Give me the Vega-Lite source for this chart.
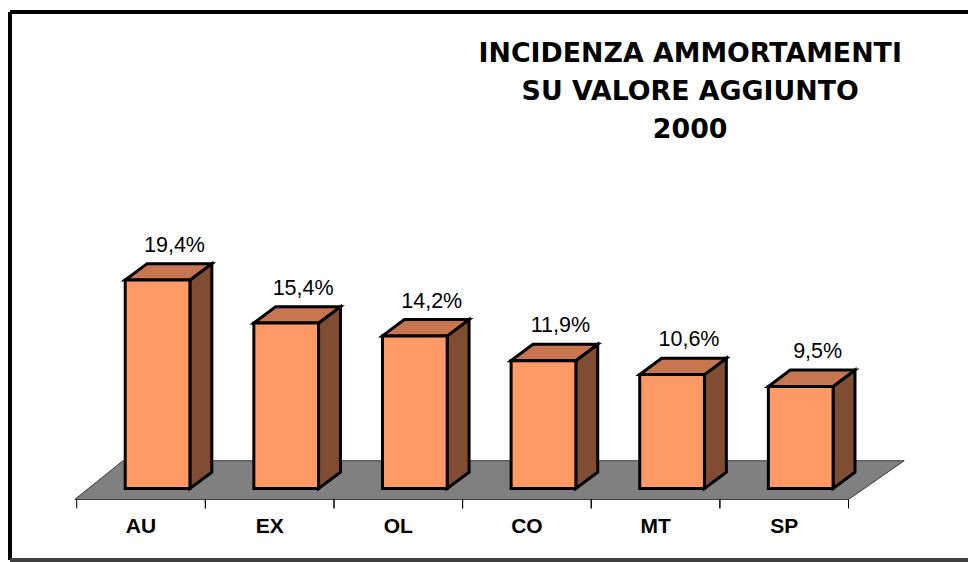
{
  "$schema": "https://vega.github.io/schema/vega-lite/v6.json",
  "width": 970,
  "height": 562,
  "autosize": {"type": "fit", "contains": "padding"},
  "padding": {"left": 8, "top": 10, "right": 0, "bottom": 0},
  "background": "white",
  "config": {"view": {"stroke": null}, "axis": {"disable": true}},
  "datasets": {
    "bars": [
      {"cat": "AU", "v": 19.4},
      {"cat": "EX", "v": 15.4},
      {"cat": "OL", "v": 14.2},
      {"cat": "CO", "v": 11.9},
      {"cat": "MT", "v": 10.6},
      {"cat": "SP", "v": 9.5}
    ]
  },
  "resolve": {"scale": {"x": "shared", "y": "shared"}},
  "layer": [
    {
      "data": {"values": [{"edge": "front"}, {"edge": "back"}]},
      "transform": [
        {"calculate": "datum.edge === 'front' ? -1.016 : 2.587", "as": "fy"},
        {"calculate": "datum.edge === 'front' ? -0.015 : 0.36", "as": "fx"},
        {"calculate": "datum.edge === 'front' ? 6.0 : 6.433", "as": "fx2"}
      ],
      "mark": {"type": "area", "orient": "horizontal", "fill": "#808080", "stroke": "#3a3a3a", "strokeWidth": 1},
      "encoding": {
        "y": {"field": "fy", "type": "quantitative", "scale": {"domain": [-6.651, 44.342], "nice": false, "zero": false}, "axis": null},
        "x": {"field": "fx", "type": "quantitative", "scale": {"domain": [-0.5187, 6.9289], "nice": false, "zero": false}, "axis": null},
        "x2": {"field": "fx2"}
      }
    },
    {
      "data": {"name": "bars"},
      "transform": [
        {"window": [{"op": "row_number", "as": "rn"}]},
        {"calculate": "datum.rn - 1", "as": "i"},
        {"calculate": "0", "as": "a"},
        {"calculate": "1", "as": "b"},
        {"fold": ["a", "b"], "as": ["k", "t"]},
        {"calculate": "datum.i + datum.t", "as": "tx"}
      ],
      "mark": {"type": "rule", "stroke": "#000000", "strokeWidth": 1},
      "encoding": {
        "x": {"field": "tx", "type": "quantitative", "axis": null},
        "y": {"datum": -1.016},
        "y2": {"datum": -1.85}
      }
    },
    {
      "data": {"name": "bars"},
      "transform": [
        {"window": [{"op": "row_number", "as": "rn"}]},
        {"calculate": "datum.rn - 1", "as": "i"},
        {"calculate": "0", "as": "a"},
        {"calculate": "1", "as": "b"},
        {"fold": ["a", "b"], "as": ["k", "t"]},
        {"calculate": "datum.i + 0.377 + 0.503 + datum.t * 0.1703", "as": "sx"},
        {"calculate": "datum.v + datum.t * 1.524", "as": "sy"},
        {"calculate": "datum.t * 1.524", "as": "sy2"}
      ],
      "mark": {"type": "area", "orient": "vertical", "fill": "#804D33", "stroke": "#000000", "strokeWidth": 3, "strokeJoin": "miter"},
      "encoding": {
        "x": {"field": "sx", "type": "quantitative", "axis": null},
        "y": {"field": "sy", "type": "quantitative", "axis": null},
        "y2": {"field": "sy2"},
        "detail": {"field": "cat"}
      }
    },
    {
      "data": {"name": "bars"},
      "transform": [
        {"window": [{"op": "row_number", "as": "rn"}]},
        {"calculate": "datum.rn - 1", "as": "i"},
        {"calculate": "0", "as": "a"},
        {"calculate": "1", "as": "b"},
        {"fold": ["a", "b"], "as": ["k", "t"]},
        {"calculate": "datum.i + 0.377 + datum.t * 0.1703", "as": "tx1"},
        {"calculate": "datum.i + 0.377 + 0.503 + datum.t * 0.1703", "as": "tx2"},
        {"calculate": "datum.v + datum.t * 1.524", "as": "ty"}
      ],
      "mark": {"type": "area", "orient": "horizontal", "fill": "#C8764F", "stroke": "#000000", "strokeWidth": 3, "strokeJoin": "miter"},
      "encoding": {
        "y": {"field": "ty", "type": "quantitative", "axis": null},
        "x": {"field": "tx1", "type": "quantitative", "axis": null},
        "x2": {"field": "tx2"},
        "detail": {"field": "cat"}
      }
    },
    {
      "data": {"name": "bars"},
      "transform": [
        {"window": [{"op": "row_number", "as": "rn"}]},
        {"calculate": "datum.rn - 1", "as": "i"},
        {"calculate": "datum.i + 0.377", "as": "fx1"},
        {"calculate": "datum.i + 0.377 + 0.503", "as": "fx2"}
      ],
      "mark": {"type": "rect", "fill": "#FF9966", "stroke": "#000000", "strokeWidth": 3, "strokeJoin": "miter"},
      "encoding": {
        "x": {"field": "fx1", "type": "quantitative", "axis": null},
        "x2": {"field": "fx2"},
        "y": {"field": "v", "type": "quantitative", "axis": null},
        "y2": {"datum": 0}
      }
    },
    {
      "data": {"name": "bars"},
      "transform": [
        {"window": [{"op": "row_number", "as": "rn"}]},
        {"calculate": "datum.rn - 1", "as": "i"},
        {"calculate": "datum.i + 0.76", "as": "lx"},
        {"calculate": "datum.v + 1.524", "as": "ly"},
        {"calculate": "replace(format(datum.v, '.1f'), '.', ',') + '%'", "as": "lab"}
      ],
      "mark": {"type": "text", "font": "Liberation Sans", "fontSize": 21.5, "color": "#000000", "baseline": "middle", "align": "center", "dy": -18},
      "encoding": {
        "x": {"field": "lx", "type": "quantitative", "axis": null},
        "y": {"field": "ly", "type": "quantitative", "axis": null},
        "text": {"field": "lab"}
      }
    },
    {
      "data": {"name": "bars"},
      "transform": [
        {"window": [{"op": "row_number", "as": "rn"}]},
        {"calculate": "datum.rn - 1 + 0.5", "as": "cx"}
      ],
      "mark": {"type": "text", "font": "Liberation Sans", "fontWeight": "bold", "fontSize": 21, "color": "#000000", "baseline": "middle", "align": "center", "dy": 28},
      "encoding": {
        "x": {"field": "cx", "type": "quantitative", "axis": null},
        "y": {"datum": -1.016},
        "text": {"field": "cat"}
      }
    },
    {
      "data": {"values": [{"t": "INCIDENZA AMMORTAMENTI"}]},
      "mark": {"type": "text", "font": "DejaVu Sans", "fontWeight": "bold", "fontSize": 26.8, "color": "#000000", "baseline": "middle", "align": "center", "lineHeight": 38},
      "encoding": {
        "x": {"datum": 4.769},
        "y": {"datum": 40.46},
        "text": {"value": ["INCIDENZA AMMORTAMENTI", "SU VALORE AGGIUNTO", "2000"]}
      }
    },
    {
      "data": {"values": [{"f": "frame"}]},
      "mark": {"type": "rule", "stroke": "#000000", "strokeWidth": 4},
      "encoding": {"y": {"datum": 44.342}}
    },
    {
      "data": {"values": [{"f": "frame"}]},
      "mark": {"type": "rule", "stroke": "#000000", "strokeWidth": 4},
      "encoding": {"x": {"datum": -0.5187}}
    },
    {
      "data": {"values": [{"f": "frame"}]},
      "mark": {"type": "rule", "stroke": "#404040", "strokeWidth": 4},
      "encoding": {"y": {"datum": -6.651}}
    }
  ]
}
